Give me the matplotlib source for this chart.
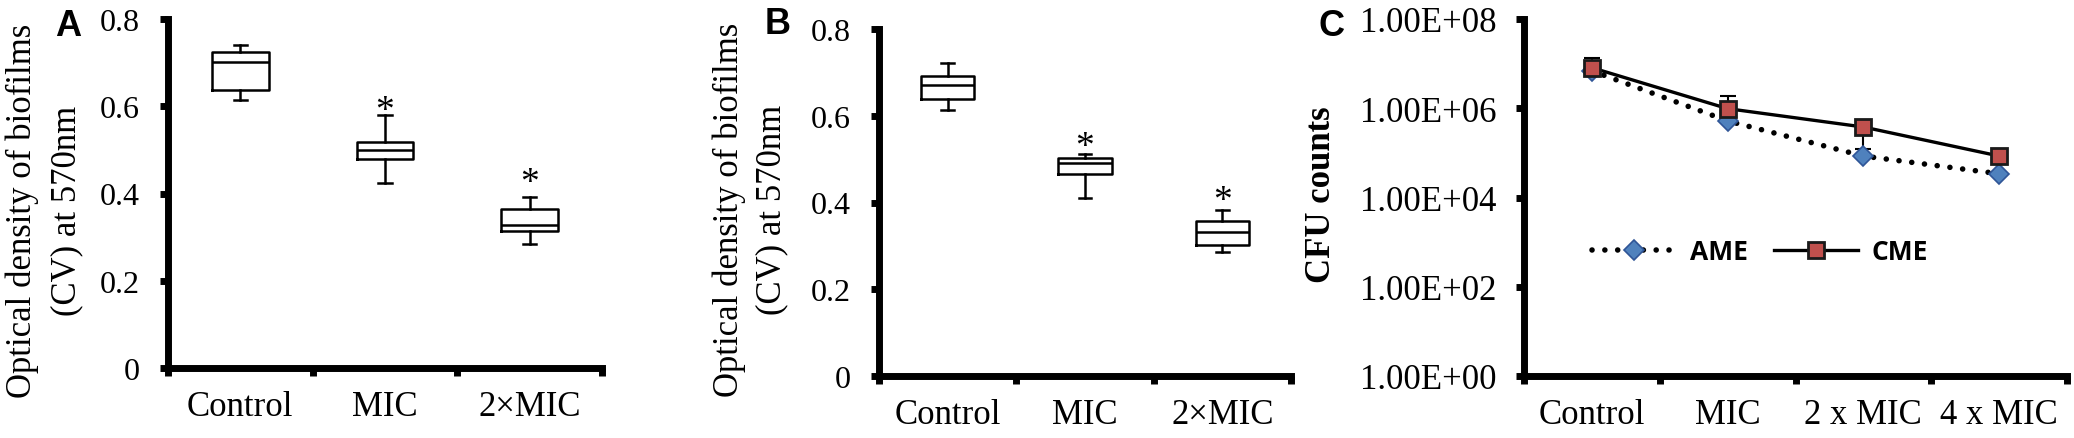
import matplotlib.pyplot as plt
from matplotlib.ticker import NullLocator, FixedLocator
import numpy as np

plt.rcParams['font.family'] = ['Liberation Serif', 'DejaVu Serif']

# Panels A and B: biofilm optical density box plots
groups_ab = ['Control', 'MIC', '2×MIC']

a_whislo = [0.615, 0.423, 0.285]
a_q1 = [0.637, 0.478, 0.314]
a_med = [0.702, 0.499, 0.328]
a_q3 = [0.725, 0.519, 0.364]
a_whishi = [0.741, 0.581, 0.391]
a_star_idx = [1, 2]
a_star_y = [0.61, 0.445]

b_whislo = [0.614, 0.410, 0.286]
b_q1 = [0.638, 0.465, 0.302]
b_med = [0.671, 0.490, 0.331]
b_q3 = [0.692, 0.502, 0.358]
b_whishi = [0.721, 0.512, 0.383]
b_star_idx = [1, 2]
b_star_y = [0.549, 0.424]

ab_yticks = [0, 0.2, 0.4, 0.6, 0.8]
ab_ylabel = ['Optical density of biofilms', '(CV) at 570nm']

# Panel C: CFU counts
groups_c = ['Control', 'MIC', '2 x MIC', '4 x MIC']
ame = [6.9e6, 5.2e5, 8.5e4, 3.4e4]
cme = [8.1e6, 9.8e5, 3.8e5, 8.5e4]
cme_err_lo = [1.5e6, 0, 2.6e5, 0]
cme_err_hi = [5.4e6, 9.0e5, 0, 0]
c_yticks = [1e0, 1e2, 1e4, 1e6, 1e8]

W, H = 2074, 439
fig = plt.figure(figsize=(W / 100, H / 100), dpi=100)


def px_axes(left, top, right, bottom):
    return fig.add_axes([left / W, (H - bottom) / H, (right - left) / W, (bottom - top) / H])


def style_axes(ax, labels, ytick_size, xlab_pad):
    for s in ['top', 'right']:
        ax.spines[s].set_visible(False)
    for s in ['left', 'bottom']:
        ax.spines[s].set_linewidth(5)
        ax.spines[s].set_color('black')
    n = len(labels)
    ax.set_xlim(0, n)
    ax.xaxis.set_major_locator(FixedLocator(np.arange(n + 1)))
    ax.xaxis.set_minor_locator(FixedLocator(np.arange(n) + 0.5))
    ax.set_xticklabels([''] * (n + 1))
    ax.set_xticklabels(labels, minor=True)
    ax.tick_params(axis='x', which='major', direction='out', length=6, width=5)
    ax.tick_params(axis='x', which='minor', length=0, pad=xlab_pad, labelsize=25)
    ax.tick_params(axis='y', which='major', direction='out', length=6, width=5,
                   pad=14, labelsize=ytick_size)


def box_panel(ax, whislo, q1, med, q3, whishi, star_idx, star_y):
    stats = []
    for i in range(len(med)):
        stats.append(dict(whislo=whislo[i], q1=q1[i], med=med[i], q3=q3[i],
                          whishi=whishi[i], fliers=[]))
    pos = np.arange(len(med)) + 0.5
    lp = dict(color='black', linewidth=1.8)
    ax.bxp(stats, positions=pos, widths=0.39, capwidths=0.09, showfliers=False,
           boxprops=lp, whiskerprops=lp, capprops=lp,
           medianprops=dict(color='black', linewidth=1.8), manage_ticks=False)
    # asterisk glyph sits high in its box, so nudge the anchor down a bit
    for i, y in zip(star_idx, star_y):
        ax.text(pos[i], y - 0.02, '*', ha='center', va='center', fontsize=27)
    ax.set_ylim(0, 0.8)
    ax.set_yticks(ab_yticks)
    ax.set_yticklabels(['0' if v == 0 else '{:.1f}'.format(v) for v in ab_yticks])
    style_axes(ax, groups_ab, 23, 16)


def ylabel_lines(x1, x2, yc):
    for x, line in zip([x1, x2], ab_ylabel):
        fig.text(x / W, (H - yc) / H, line, rotation=90, ha='center', va='center',
                 fontsize=25)


# Panel A
ax_a = px_axes(168, 20, 602, 369)
box_panel(ax_a, a_whislo, a_q1, a_med, a_q3, a_whishi, a_star_idx, a_star_y)
ylabel_lines(22, 67, 211)
fig.text(68 / W, (H - 27) / H, 'A', ha='center', va='center', fontsize=26,
         fontweight='bold', family='Liberation Sans')

# Panel B
ax_b = px_axes(879, 30, 1291, 377)
box_panel(ax_b, b_whislo, b_q1, b_med, b_q3, b_whishi, b_star_idx, b_star_y)
ylabel_lines(729, 772, 210)
fig.text(778 / W, (H - 25) / H, 'B', ha='center', va='center', fontsize=26,
         fontweight='bold', family='Liberation Sans')

# Panel C
ax_c = px_axes(1524, 20, 2067, 377)
xc = np.arange(len(groups_c)) + 0.5
ax_c.set_yscale('log')
ax_c.errorbar(xc, cme, yerr=[cme_err_lo, cme_err_hi], fmt='none', ecolor='black',
              elinewidth=1.5, capsize=6, capthick=1.5, zorder=2)
ax_c.plot(xc, ame, color='black', lw=4, linestyle=(0, (0.01, 2.3)),
          dash_capstyle='round', marker='D', ms=10.5, mfc='#4F81BD', mec='#2F5597',
          mew=1.2, label='AME', zorder=3)
ax_c.plot(xc, cme, color='black', lw=2.4, marker='s', ms=12, mfc='#C0504D',
          mec='#1a1a1a', mew=2, label='CME', zorder=4)
ax_c.set_ylim(1, 1e8)
ax_c.set_yticks(c_yticks)
ax_c.set_yticklabels(['{:.2E}'.format(v) for v in c_yticks])
ax_c.yaxis.set_minor_locator(NullLocator())
style_axes(ax_c, groups_c, 25, 16)
ax_c.legend(loc='center', bbox_to_anchor=(1760 / W, (H - 253) / H),
            bbox_transform=fig.transFigure, ncol=2, frameon=False,
            prop=dict(family='Open Sans', weight='bold', size=19),
            handlelength=3.2, columnspacing=1.0, handletextpad=0.5)
fig.text(1321 / W, (H - 195) / H, 'CFU counts', rotation=90, ha='center',
         va='center', fontsize=25, fontweight='bold')
fig.text(1331 / W, (H - 27) / H, 'C', ha='center', va='center', fontsize=26,
         fontweight='bold', family='Liberation Sans')

plt.savefig('out.png', dpi=100)
